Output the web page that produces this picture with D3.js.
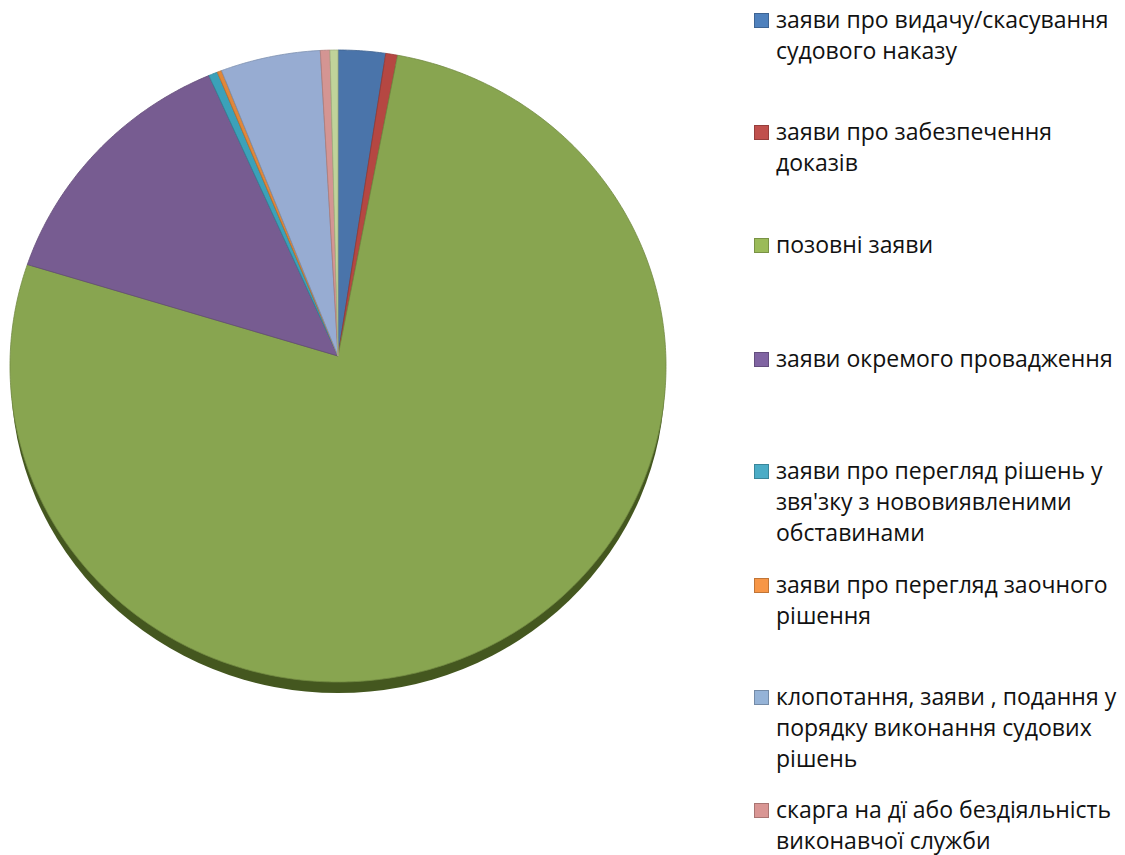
<!DOCTYPE html>
<html><head><meta charset="utf-8">
<script src="https://cdn.jsdelivr.net/npm/d3@7"></script>
<style>body{margin:0;background:#fff}svg{display:block}</style>
</head><body>
<svg id="c" width="1125" height="855"></svg>
<script>
const categories = [
  ["заяви про видачу/скасування", "судового наказу"],
  ["заяви про забезпечення", "доказів"],
  ["позовні заяви"],
  ["заяви окремого провадження"],
  ["заяви про перегляд рішень у", "звя'зку з нововиявленими", "обставинами"],
  ["заяви про перегляд заочного", "рішення"],
  ["клопотання, заяви , подання у", "порядку виконання судових", "рішень"],
  ["скарга на дї або бездіяльність", "виконавчої служби"],
  ["інші"]
];
const values = [2.33, 0.58, 77.3, 13.36, 0.44, 0.22, 4.92, 0.47, 0.39];
const colors = ["#4A74AA", "#B54742", "#88A550", "#775C91", "#3BA1B9", "#E0873A", "#97ACD2", "#D49593", "#C0D39A"];
const legendColors = ["#4F81BD", "#C0504D", "#9BBB59", "#8064A2", "#4BACC6", "#F79646", "#95B3D7", "#D99694", "#C3D69B"];
const legendBaseline = [28, 140, 253, 367, 479, 593, 705, 818];

const svg = d3.select("#c");
const cx = 338, cy = 366, rx = 328, ry = 316, depth = 11;
const apexX = 338, apexY = 356;

const pie = d3.pie().sort(null).value(d => d)(values);
const pt = a => [cx + rx * Math.sin(a), cy - ry * Math.cos(a)];

function slicePath(d) {
  const p = d3.path();
  const [x0, y0] = pt(d.startAngle);
  p.moveTo(apexX, apexY);
  p.lineTo(x0, y0);
  const n = Math.max(2, Math.ceil((d.endAngle - d.startAngle) / 0.01));
  for (let k = 1; k <= n; k++) {
    const a = d.startAngle + (d.endAngle - d.startAngle) * k / n;
    const [x, y] = pt(a);
    p.lineTo(x, y);
  }
  p.closePath();
  return p.toString();
}

// rim (3D side)
svg.append("ellipse").attr("cx", cx).attr("cy", cy + depth).attr("rx", rx - 1).attr("ry", ry)
  .attr("fill", "#44571F");
svg.append("g").selectAll("path").data(pie).join("path")
  .attr("d", slicePath)
  .attr("fill", (d, i) => colors[i])
  .attr("stroke", (d, i) => d3.color(colors[i]).darker(0.5))
  .attr("stroke-width", 0.8)
  .attr("stroke-linejoin", "round");

// legend (only the entries visible in the frame)
const lg = svg.append("g");
legendBaseline.forEach((b, i) => {
  const lines = categories[i];
  lg.append("rect").attr("x", 754.5).attr("y", b - 14.5).attr("width", 14).attr("height", 14)
    .attr("fill", legendColors[i]).attr("stroke", d3.color(legendColors[i]).darker(0.7)).attr("stroke-width", 1);
  lines.forEach((t, j) => {
    lg.append("text").attr("x", 776).attr("y", b + j * 31)
      .attr("font-family", "Open Sans, sans-serif").attr("font-size", 23).attr("fill", "#111")
      .text(t);
  });
});
</script>
</body></html>
